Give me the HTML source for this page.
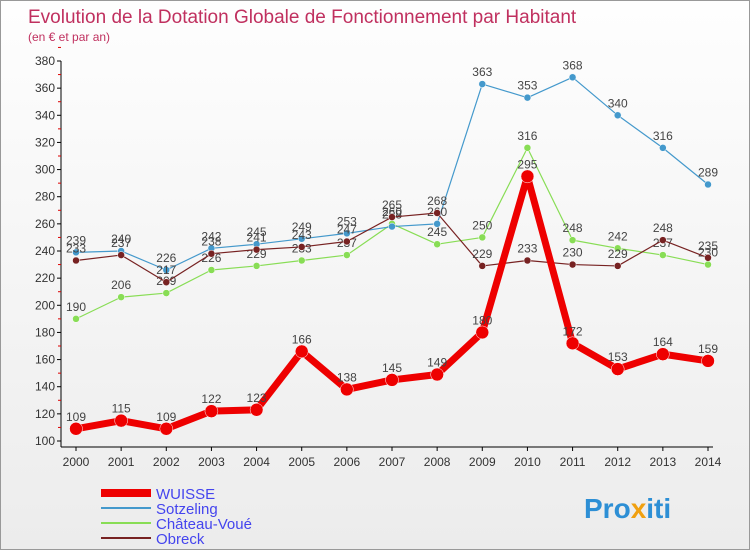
<!DOCTYPE html>
<html><head><meta charset="utf-8"><style>
body{margin:0}
#c{width:750px;height:550px;position:relative;background:linear-gradient(#fefefe,#ececec);border:1px solid #999;box-sizing:border-box;font-family:"Liberation Sans",sans-serif;overflow:hidden}
</style></head><body>
<div id="c">
<svg id="s" width="750" height="550"></svg>
</div>
<script>
const years=["2000","2001","2002","2003","2004","2005","2006","2007","2008","2009","2010","2011","2012","2013","2014"];
const wuisse=[109,115,109,122,123,166,138,145,149,180,295,172,153,164,159];
const sotzeling=[239,240,226,242,245,249,253,258,260,363,353,368,340,316,289];
const chateau=[190,206,209,226,229,233,237,260,245,250,316,248,242,237,230];
const obreck=[233,237,217,238,241,243,247,265,268,229,233,230,229,248,235];
const yTicks=[100,120,140,160,180,200,220,240,260,280,300,320,340,360,380];
const NS="http://www.w3.org/2000/svg";
const s=document.getElementById('s');
function X(i){return 75+i*(707-75)/14;}
function Y(v){return 440-(v-100)*380/280;}
function el(t,a,p){const e=document.createElementNS(NS,t);for(const k in a)e.setAttribute(k,a[k]);(p||s).appendChild(e);return e;}
function tx(x,y,str,a){const e=el('text',Object.assign({x:x,y:y},a));e.textContent=str;return e;}
let t=tx(27,22,"Evolution de la Dotation Globale de Fonctionnement par Habitant",{fill:"#c0305f","font-size":19});

t=tx(27,40,"(en € et par an)",{fill:"#c0305f","font-size":12});

let ax=el('line',{x1:60,y1:60,x2:60,y2:446,stroke:"#000"});

ax=el('line',{x1:60,y1:446,x2:712,y2:446,stroke:"#000"});

yTicks.forEach(v=>{
 el('line',{x1:56,x2:60,y1:Y(v),y2:Y(v),stroke:"#000"});
 el('line',{x1:57,x2:60,y1:Y(v+10),y2:Y(v+10),stroke:"#d00"});
 const l=tx(54,Y(v)+4,v,{"text-anchor":"end","font-size":12,fill:"#333"});
 
});
years.forEach((y,i)=>{
 el('line',{x1:X(i),x2:X(i),y1:446,y2:450,stroke:"#000"});
 const l=tx(X(i),465,y,{"text-anchor":"middle","font-size":12,fill:"#333"});
 
});
function series(data,color,w,r,name){
 const g=el('g',{});
 
 const p=el('polyline',{points:data.map((v,i)=>X(i)+","+Y(v)).join(" "),fill:"none",stroke:color,"stroke-width":w,"stroke-linejoin":"round"},g);
 data.forEach((v,i)=>{
  const c=el('circle',{cx:X(i),cy:Y(v),r:r,fill:color,stroke:"#fff","stroke-width":0.5},g);
  
  const l=tx(X(i),Y(v)-8,v,{"text-anchor":"middle","font-size":12,fill:"#444"},g);
  
 });
}
series(chateau,"#88dd55",1.2,3.5,"chateau-voue");
series(sotzeling,"#4499cc",1.2,3.5,"sotzeling");
series(obreck,"#772222",1.2,3.5,"obreck");
series(wuisse,"#ee0000",7,6.5,"wuisse");
const leg=[["WUISSE","#ee0000",8],["Sotzeling","#4499cc",2],["Château-Voué","#88dd55",2],["Obreck","#772222",2]];
leg.forEach((d,i)=>{
 const g=el('g',{});
 
 const y=492+i*15;
 el('line',{x1:100,x2:150,y1:y,y2:y,stroke:d[1],"stroke-width":d[2]},g);
 tx(155,y+6,d[0],{"font-size":15,fill:"#4444ee"},g);
});
const lg=el('text',{x:583,y:517,"font-size":28,"font-weight":"bold"});

[["Pro","#2d8fd5"],["x","#f0a010"],["iti","#2d8fd5"]].forEach(p=>{const ts=el('tspan',{fill:p[1]},lg);ts.textContent=p[0];});
</script>
</body></html>
